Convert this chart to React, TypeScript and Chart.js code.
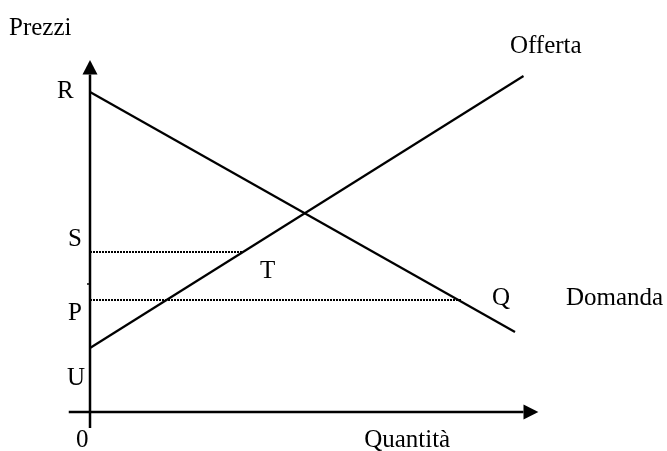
import React, { useEffect, useRef } from "react";
import { Chart, registerables } from "chart.js";

Chart.register(...registerables);

// Economic values (quantity on x, price on y)
const demandQ = [0, 10];
const demandP = [10, 2.5];
const supplyQ = [0, 10.2];
const supplyP = [2, 10.5];
const priceS = 5;
const priceP = 3.5;
const sDashEndQ = 3.6;
const pDashEndQ = 8.75;
const minorTick = 4;

// Axis extents
const xAxisRange = [-0.5, 10.2];
const yAxisRange = [-0.5, 10.55];
const xArrowTip = 10.55;
const yArrowTip = 11.0;

// Text labels
const labelTexts = ["Prezzi", "R", "S", "P", "U", "0", "T", "Q", "Domanda", "Offerta", "Quantità"];
const labelQ = [-1.906, -0.776, -0.518, -0.518, -0.541, -0.329, 4.0, 9.46, 11.2, 9.88, 6.45];
const labelP = [11.78, 9.81, 5.19, 2.875, 0.844, -1.094, 4.19, 3.34, 3.34, 11.22, -1.094];

const pts = (xs: number[], ys: number[]) => xs.map((x, i) => ({ x, y: ys[i] }));

export default function App() {
  const ref = useRef<HTMLCanvasElement | null>(null);
  useEffect(() => {
    if (!ref.current) return;
    const overlay = {
      id: "overlay",
      afterDatasetsDraw(chart: any) {
        const ctx = chart.ctx;
        const xs = chart.scales.x;
        const ys = chart.scales.y;
        ctx.save();
        ctx.fillStyle = "#000";
        const ox = xs.getPixelForValue(0);
        const oy = ys.getPixelForValue(0);
        const ytip = ys.getPixelForValue(yArrowTip);
        const ybase = ys.getPixelForValue(yAxisRange[1]);
        ctx.beginPath();
        ctx.moveTo(ox, ytip);
        ctx.lineTo(ox - 7.5, ybase);
        ctx.lineTo(ox + 7.5, ybase);
        ctx.closePath();
        ctx.fill();
        const xtip = xs.getPixelForValue(xArrowTip);
        const xbase = xs.getPixelForValue(xAxisRange[1]);
        ctx.beginPath();
        ctx.moveTo(xtip, oy);
        ctx.lineTo(xbase, oy - 7.5);
        ctx.lineTo(xbase, oy + 7.5);
        ctx.closePath();
        ctx.fill();
        ctx.font = "25px 'Liberation Serif', 'Times New Roman', serif";
        ctx.textAlign = "left";
        ctx.textBaseline = "alphabetic";
        labelTexts.forEach((t, i) => {
          ctx.fillText(t, xs.getPixelForValue(labelQ[i]), ys.getPixelForValue(labelP[i]));
        });
        ctx.restore();
      },
    };
    const line = (data: any[], width: number, dash: number[] = []) => ({
      data,
      showLine: true,
      borderColor: "#000",
      backgroundColor: "#000",
      borderWidth: width,
      borderDash: dash,
      pointRadius: 0,
      pointHoverRadius: 0,
      fill: false,
    });
    const chart = new Chart(ref.current, {
      type: "scatter",
      data: {
        datasets: [
          line(pts([0, 0], yAxisRange), 2.5),
          line(pts(xAxisRange, [0, 0]), 2.5),
          line(pts([-0.07, 0], [minorTick, minorTick]), 1.5),
          line(pts([0, sDashEndQ], [priceS, priceS]), 2, [2, 1]),
          line(pts([0, pDashEndQ], [priceP, priceP]), 2, [2, 1]),
          line(pts(demandQ, demandP), 2.2),
          line(pts(supplyQ, supplyP), 2.2),
        ],
      },
      options: {
        animation: false,
        responsive: true,
        maintainAspectRatio: false,
        layout: { padding: 0 },
        plugins: { legend: { display: false }, tooltip: { enabled: false } },
        scales: {
          x: { type: "linear", display: false, min: -90 / 42.5, max: 577 / 42.5 },
          y: { type: "linear", display: false, min: -39 / 32, max: 412 / 32 },
        },
      },
      plugins: [overlay],
    });
    return () => chart.destroy();
  }, []);
  return (
    <div style={{ position: "absolute", left: 0, top: 0, width: 667, height: 451, background: "#fff" }}>
      <canvas ref={ref} />
    </div>
  );
}
